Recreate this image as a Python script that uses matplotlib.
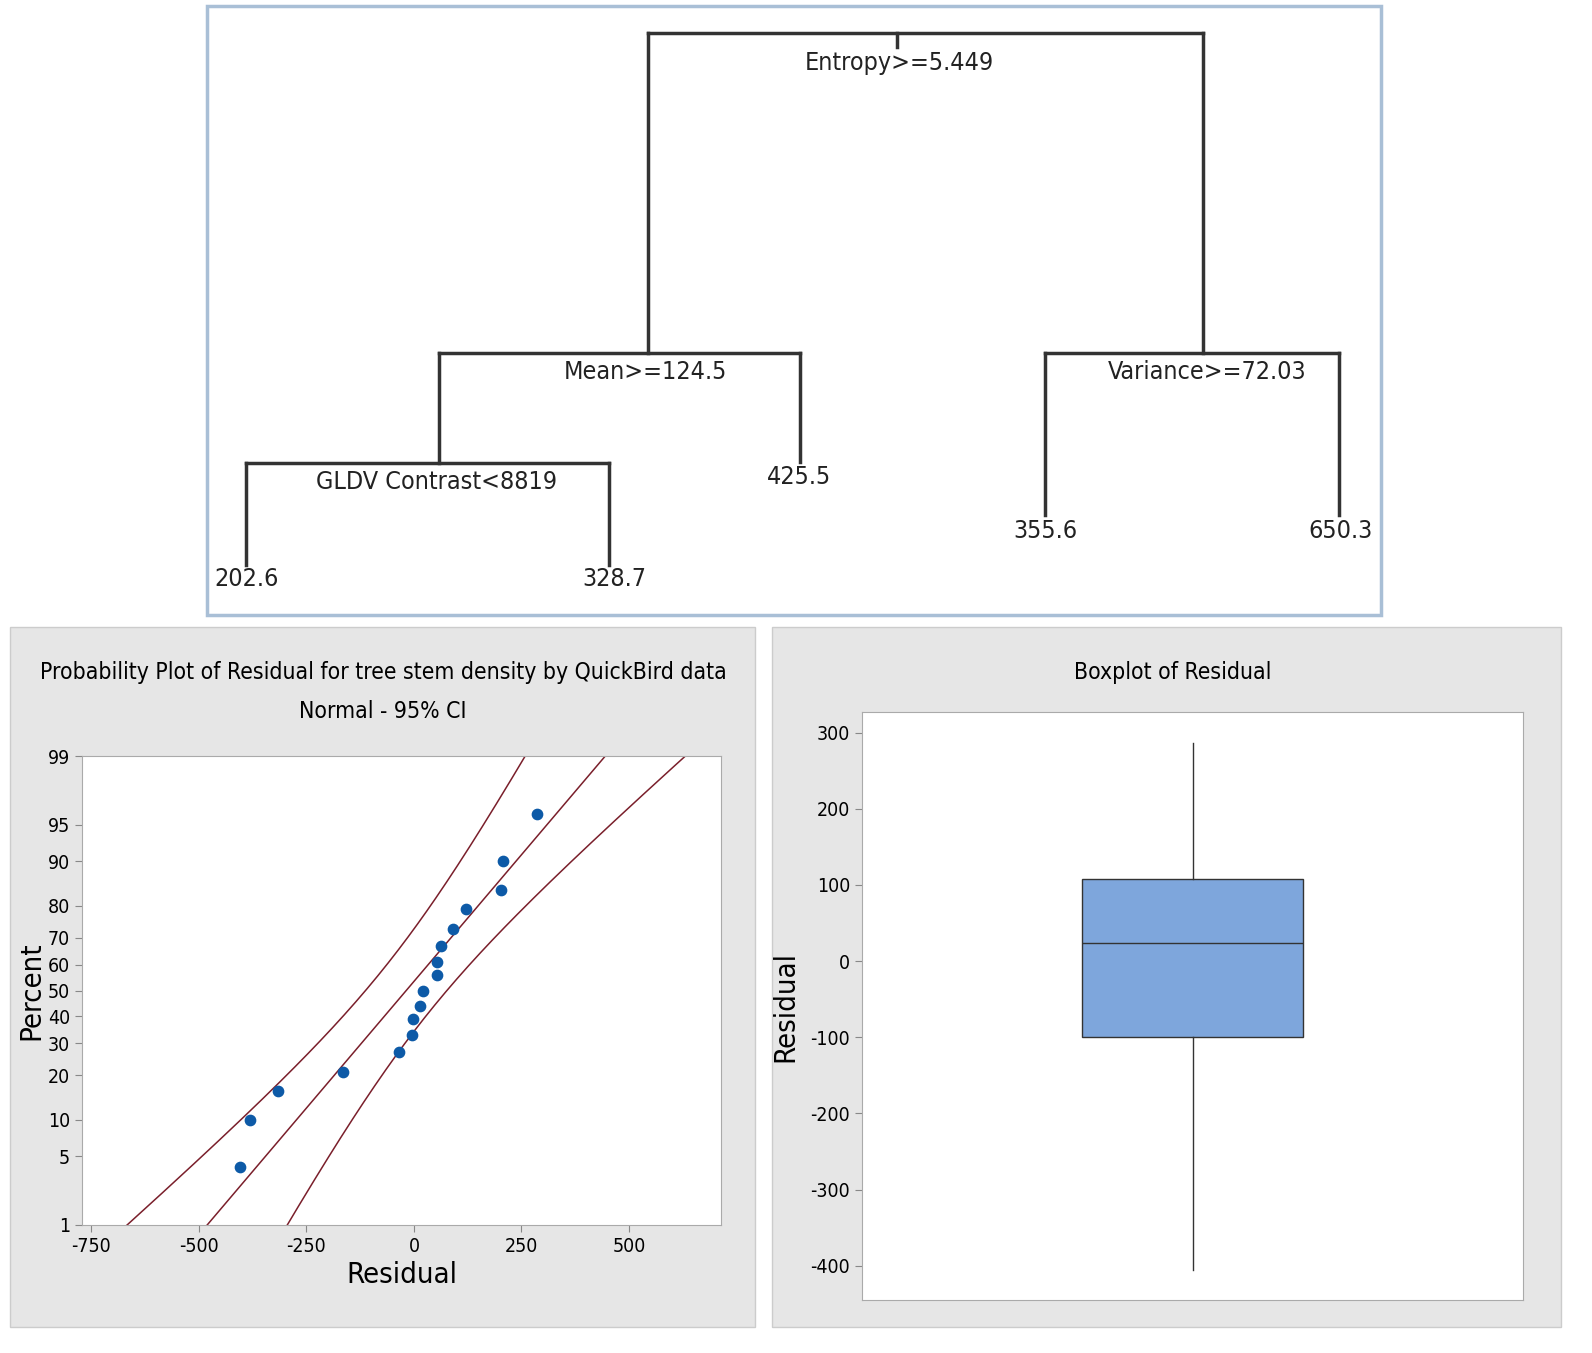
import numpy as np
import matplotlib
matplotlib.use("Agg")
import matplotlib.pyplot as plt
from matplotlib.patches import Rectangle
from statistics import NormalDist

plt.rcParams["font.family"] = ["DejaVu Sans"]
plt.rcParams["font.stretch"] = "condensed"
plt.rcParams["axes.unicode_minus"] = False

# residuals, with their plotted percents
residuals = [-405, -381, -316, -165, -35, -5, -2, 14, 21, 53, 53, 63, 91, 121, 202, 207, 286]
percents = [4, 10, 16, 21, 27, 33, 39, 44, 50, 56, 61, 67, 73, 79, 84, 90, 96]
fit_mean, fit_sd = -18.0, 199.0
pct_ticks = [1, 5, 10, 20, 30, 40, 50, 60, 70, 80, 90, 95, 99]
x_ticks = [-750, -500, -250, 0, 250, 500]

# boxplot stats
box_stats = dict(whislo=-406, q1=-100, med=24, q3=108, whishi=286)
box_ticks = [-400, -300, -200, -100, 0, 100, 200, 300]

# regression tree: (x, y) of splits in the panel's own pixel frame
tree_lines = [
    ([897, 897], [47, 33]), ([648, 1203], [33, 33]),
    ([648, 648], [33, 353]), ([1203, 1203], [33, 353]),
    ([439, 800], [353, 353]), ([439, 439], [353, 463]), ([800, 800], [353, 462]),
    ([246, 609], [463, 463]), ([246, 246], [463, 565]), ([609, 609], [463, 565]),
    ([1045, 1339], [353, 353]), ([1045, 1045], [353, 515]), ([1339, 1339], [353, 515]),
]
tree_labels = [
    (899, 63, "Entropy>=5.449"), (645, 372, "Mean>=124.5"),
    (437, 482, "GLDV Contrast<8819"), (1207, 372, "Variance>=72.03"),
    (799, 477, "425.5"), (247, 579, "202.6"), (614, 579, "328.7"),
    (1045, 531, "355.6"), (1340, 531, "650.3"),
]

W, H = 1592, 1353
fig = plt.figure(figsize=(W / 100, H / 100), dpi=100)

def px_axes(x0, y0, x1, y1):
    return fig.add_axes([x0 / W, 1 - y1 / H, (x1 - x0) / W, (y1 - y0) / H])

# background panels
bg = fig.add_axes([0, 0, 1, 1])
bg.set_xlim(0, W); bg.set_ylim(H, 0); bg.axis("off")
bg.add_patch(Rectangle((207, 6), 1174, 609, fill=False, ec="#a9bfd6", lw=2.5))
bg.add_patch(Rectangle((10, 627), 745, 700, fc="#e6e6e6", ec="#cccccc", lw=1))
bg.add_patch(Rectangle((772, 627), 789, 700, fc="#e6e6e6", ec="#cccccc", lw=1))

# tree
for xs, ys in tree_lines:
    bg.plot(xs, ys, color="#333333", lw=2.5)
for x, y, s in tree_labels:
    bg.text(x, y, s, ha="center", va="center", fontsize=18, color="#222222")

# probability plot
ax = px_axes(82, 756, 721, 1225)
nd = NormalDist()
ax.set_xlim(-772, 714)
ax.set_ylim(nd.inv_cdf(0.01), nd.inv_cdf(0.99))
z = np.linspace(-3.2, 3.2, 200)
center = fit_mean + z * fit_sd
half = 1.96 * fit_sd * np.sqrt(1 / len(residuals) + z ** 2 / (2 * (len(residuals) - 1)))
for line in (center, center - half, center + half):
    ax.plot(line, z, color="#7a1f2b", lw=1.1)
ax.scatter(residuals, [nd.inv_cdf(p / 100) for p in percents], s=55, color="#0d5aa7", zorder=3)
ax.set_yticks([nd.inv_cdf(p / 100) for p in pct_ticks])
ax.set_yticklabels([str(p) for p in pct_ticks])
ax.set_xticks(x_ticks)
ax.tick_params(labelsize=14, color="#888888", length=5)
for s in ax.spines.values():
    s.set_color("#aaaaaa")
ax.set_xlabel("Residual", fontsize=21, labelpad=4)
ax.set_ylabel("Percent", fontsize=21, labelpad=2)
bg.text(383, 672, "Probability Plot of Residual for tree stem density by QuickBird data",
        ha="center", va="center", fontsize=16.5)
bg.text(383, 711, "Normal - 95% CI", ha="center", va="center", fontsize=16.5)

# boxplot
bx = px_axes(862, 712, 1523, 1300)
bx.bxp([box_stats], positions=[0], widths=0.666, showfliers=False, showcaps=False,
       patch_artist=True,
       boxprops=dict(facecolor="#7ea6dc", edgecolor="#333333", lw=1),
       medianprops=dict(color="#333333", lw=1),
       whiskerprops=dict(color="#333333", lw=1))
bx.set_xlim(-1, 1)
bx.set_ylim(-445, 327)
bx.set_xticks([])
bx.set_yticks(box_ticks)
bx.tick_params(labelsize=14, color="#888888", length=5)
for s in bx.spines.values():
    s.set_color("#aaaaaa")
bx.set_ylabel("Residual", fontsize=21, labelpad=8)
bg.text(1173, 672, "Boxplot of Residual", ha="center", va="center", fontsize=16.5)

fig.savefig("out.png", dpi=100)
